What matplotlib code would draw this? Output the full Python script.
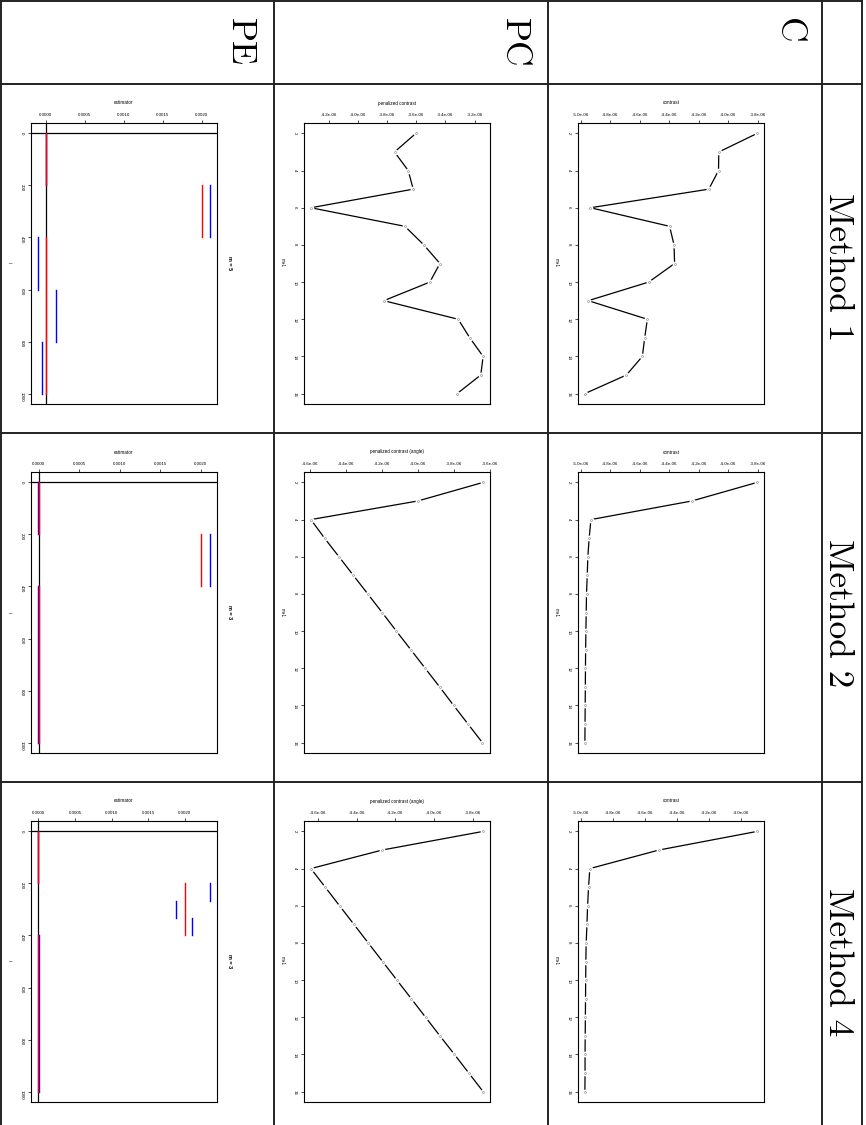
import numpy as np
import matplotlib.pyplot as plt
from matplotlib.ticker import MultipleLocator, FormatStrFormatter

plt.rcParams['font.family'] = ['Liberation Sans', 'DejaVu Sans']

W, H = 866, 1125

# model size m+1
m = list(range(2, 17))

# contrast (units of 1e-6)
C1 = [-3.804, -4.064, -4.066, -4.132, -4.935, -4.398, -4.368, -4.364, -4.540, -4.950, -4.549, -4.567, -4.583, -4.691, -4.973]
C2 = [-3.804, -4.247, -4.932, -4.944, -4.953, -4.957, -4.962, -4.964, -4.966, -4.968, -4.969, -4.970, -4.971, -4.972, -4.973]
C4 = [-3.896, -4.510, -4.944, -4.952, -4.958, -4.962, -4.967, -4.969, -4.970, -4.971, -4.972, -4.973, -4.974, -4.974, -4.975]

# penalized contrast (units of 1e-6)
PC1 = [-3.602, -3.748, -3.654, -3.620, -4.321, -3.677, -3.547, -3.437, -3.506, -3.821, -3.312, -3.232, -3.141, -3.157, -3.319]
PC2 = [-3.637, -4.000, -4.594, -4.518, -4.438, -4.358, -4.278, -4.198, -4.119, -4.039, -3.959, -3.879, -3.801, -3.721, -3.641]
PC4 = [-3.747, -4.267, -4.636, -4.562, -4.488, -4.414, -4.340, -4.266, -4.192, -4.118, -4.044, -3.970, -3.895, -3.821, -3.747]

# piecewise constant estimators: breakpoints in i and level on each piece
true_bp = [0, 200, 400, 1000]
true_val = [0.0, 0.002, 0.0]
est1_bp = [0, 200, 400, 600, 800, 1000]
est1_val = [0.000002, 0.002107, -0.000103, 0.000132, -0.000051]
est2_bp = [0, 200, 400, 1000]
est2_val = [-0.00001, 0.002115, -0.000005]
est4_bp = [0, 200, 267, 333, 400, 1000]
est4_val = [-0.000006, 0.002346, 0.001882, 0.0021, 0.000003]

methods = ['Method 1', 'Method 2', 'Method 4']
rows = ['PE', 'PC', 'C']
m_sel = [5, 3, 3]

col_x = [1, 274, 548, 822, 862]
row_y = [1, 84, 433, 782]
method_mid = [267, 613, 962]

fig = plt.figure(figsize=(W / 100, H / 100), dpi=100)

# table grid drawn in pixel coordinates
bg = fig.add_axes([0, 0, 1, 1])
bg.set_xlim(0, W)
bg.set_ylim(H, 0)
bg.axis('off')
for x in col_x:
    bg.plot([x, x], [row_y[0], H], color='#222222', lw=1.4)
for y in row_y:
    bg.plot([col_x[0], col_x[-1]], [y, y], color='#222222', lw=1.4)

for j, lab in enumerate(rows):
    bg.text(col_x[j + 1] - 43, 18, lab, family='cmr10', fontsize=25.5,
            rotation=-90, rotation_mode='anchor', ha='left', va='baseline')
for k, lab in enumerate(methods):
    bg.text(829, method_mid[k], lab, family='cmr10', fontsize=25.5,
            rotation=-90, rotation_mode='anchor', ha='center', va='baseline')


def cell_axes(cx, ry):
    x0 = cx + 30
    y0 = ry + 39
    return fig.add_axes([x0 / W, 1 - (y0 + 281) / H, 186 / W, 281 / H]), x0, y0


def style(ax, x0, y0, xlab, ylab):
    ax.margins(0.04)
    ax.invert_yaxis()
    ax.xaxis.tick_top()
    ax.tick_params(axis='x', labelsize=3.2, length=2.2, width=0.5, pad=2.2)
    ax.tick_params(axis='y', labelsize=3.2, length=2.2, width=0.5, pad=2.8,
                   labelrotation=-90)
    for s in ax.spines.values():
        s.set_linewidth(0.8)
    bg.text(x0 + 93, y0 - 20, xlab, fontsize=3.3, ha='center', va='center')
    bg.text(x0 - 22, y0 + 140, ylab, fontsize=3.3, rotation=-90,
            ha='center', va='center')


def contrast_plot(ax, vals):
    v = np.array(vals) * 1e-6
    ax.plot(v, m, color='black', lw=0.9, zorder=2)
    ax.plot(v, m, 'o', ms=3.2, mfc='white', mec='white', zorder=3)
    ax.plot(v, m, 'o', ms=1.4, mfc='none', mec='0.6', mew=0.5, zorder=4)
    ax.xaxis.set_major_locator(MultipleLocator(2e-7))
    ax.xaxis.set_major_formatter(FormatStrFormatter('%.1e'))
    ax.yaxis.set_major_locator(MultipleLocator(2))


def pe_plot(ax, bp, vals):
    ax.axvline(0, color='black', lw=0.9, zorder=1)
    ax.axhline(0, color='black', lw=0.9, zorder=1)
    for k in range(len(vals)):
        ax.plot([vals[k], vals[k]], [bp[k], bp[k + 1]], color='blue', lw=1.0, zorder=2)
    for k in range(len(true_val)):
        ax.plot([true_val[k], true_val[k]], [true_bp[k], true_bp[k + 1]], color='red', lw=1.0, zorder=3)
    ax.xaxis.set_major_locator(MultipleLocator(0.0005))
    ax.xaxis.set_major_formatter(FormatStrFormatter('%.4f'))
    ax.yaxis.set_major_locator(MultipleLocator(200))


C_all = [C1, C2, C4]
PC_all = [PC1, PC2, PC4]
est_all = [(est1_bp, est1_val), (est2_bp, est2_val), (est4_bp, est4_val)]
pc_lab = ['penalized contrast', 'penalized contrast (angle)', 'penalized contrast (angle)']

for k in range(3):
    ry = row_y[k + 1]

    ax, x0, y0 = cell_axes(col_x[2], ry)
    contrast_plot(ax, C_all[k])
    style(ax, x0, y0, 'contrast', 'm+1')

    ax, x0, y0 = cell_axes(col_x[1], ry)
    contrast_plot(ax, PC_all[k])
    style(ax, x0, y0, pc_lab[k], 'm+1')

    ax, x0, y0 = cell_axes(col_x[0], ry)
    pe_plot(ax, *est_all[k])
    style(ax, x0, y0, 'estimator', 'i')
    bg.text(x0 + 198, y0 + 140, 'm = %d' % m_sel[k], fontsize=4, weight='bold',
            rotation=-90, ha='center', va='center')

fig.savefig('out.png', dpi=100)
